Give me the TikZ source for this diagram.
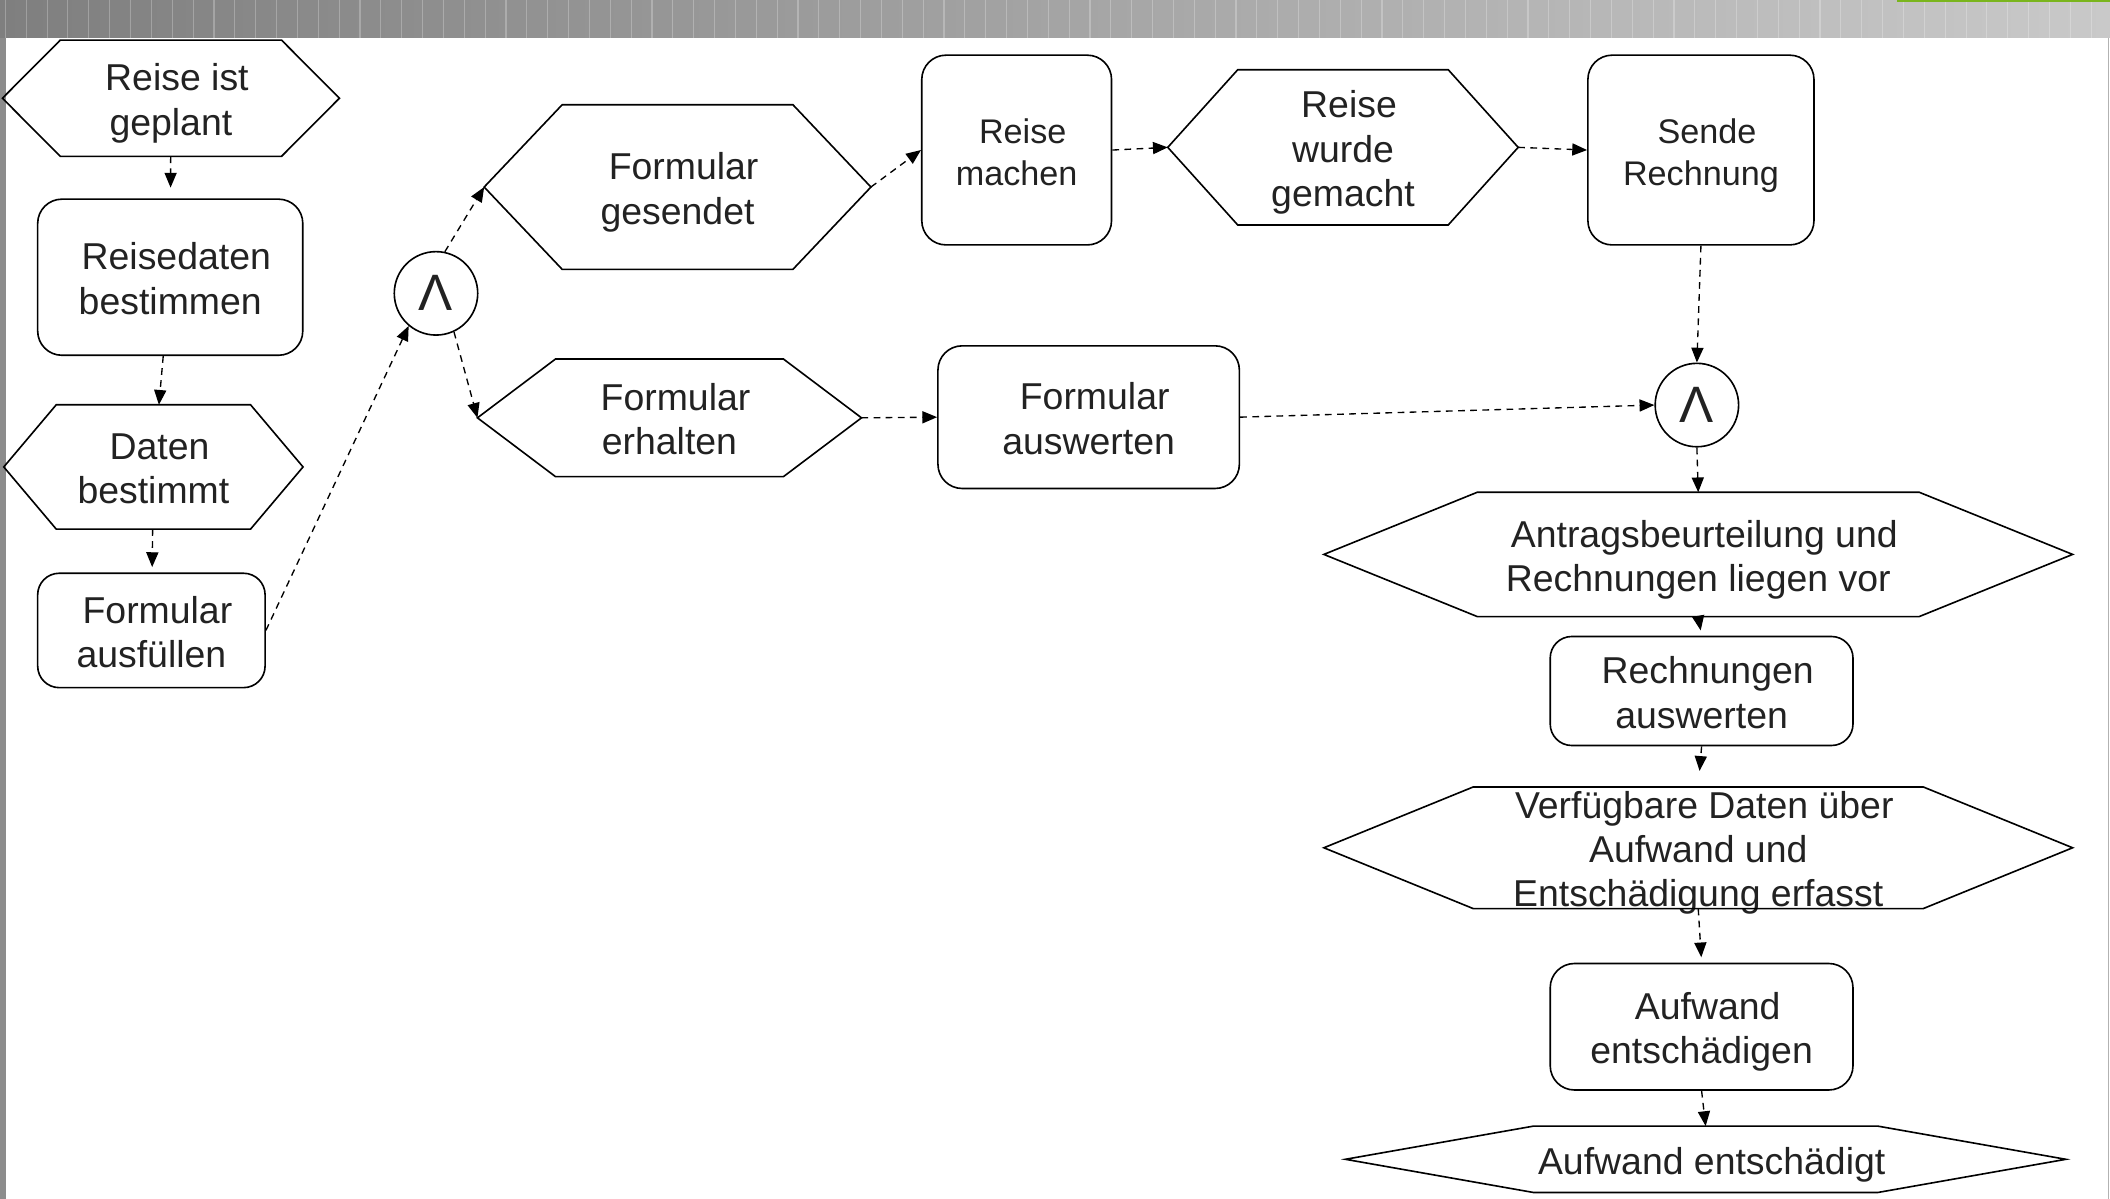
\documentclass[tikz,border=0pt]{standalone}
\usepackage{fontspec}
\setmainfont{Liberation Sans}
\usepackage{tikz}
\usetikzlibrary{arrows.meta,positioning}
\definecolor{textgray}{HTML}{222222}
\definecolor{barleft}{HTML}{7F7F7F}
\definecolor{barright}{HTML}{C9C9C9}
\definecolor{bargreen}{HTML}{7AB51D}
\definecolor{framegray}{HTML}{8C8C8C}
\newcommand{\einzug}{\hspace*{9pt}}

\begin{document}
\begin{tikzpicture}[x=1pt,y=-1pt,>={Triangle[length=11pt,width=9pt]},font=\fontsize{27.8}{33}\selectfont]
\tikzstyle{ereignis}=[shape=rectangle,inner sep=0pt,align=center,text=textgray,text depth=5pt]
\tikzstyle{funktion}=[draw,line width=1.2pt,rounded corners=18pt,inner sep=0pt,align=center,text=textgray,text depth=5pt]
\tikzstyle{zeile1}=[text height=27pt]
\tikzstyle{zeile2}=[text height=60pt]
\tikzstyle{zeile3}=[text height=93pt]
\tikzstyle{klein}=[font=\fontsize{25.4}{31}\selectfont,text height=56pt,text depth=3pt]
\tikzstyle{konnektor}=[draw,circle,line width=1.2pt,minimum size=62pt,inner sep=0pt,text=textgray,font=\fontsize{38}{38}\selectfont]
\tikzstyle{fluss}=[->,dashed,dash pattern=on 5pt off 4pt,line width=1pt]
\useasboundingbox (0,0) rectangle (1568,891);
% window frame
\shade[left color=barleft,right color=barright] (0,0) rectangle (1568,28);
\foreach \i in {0,...,101}
  \draw[white,opacity=0.25,line width=0.8pt] (\i*15.5+4,0) -- (\i*15.5+4,28);
\fill[bargreen] (1410,0) rectangle (1568,1.3);
\fill[framegray] (0,28) rectangle (4.5,891);
\draw[gray!60,line width=0.8pt] (1567,28) -- (1567,891);
% events and functions
\node[ereignis,zeile2,minimum width=250pt,minimum height=86pt] (geplant) at (127,73) {\einzug Reise ist\\geplant};
\node[funktion,zeile2,minimum width=197pt,minimum height=116pt] (reisedaten) at (126.5,206) {\einzug Reisedaten\\bestimmen};
\node[ereignis,zeile2,minimum width=222pt,minimum height=92pt] (bestimmt) at (114,347) {\einzug Daten\\bestimmt};
\node[funktion,zeile2,minimum width=169pt,minimum height=85pt,rounded corners=16pt] (ausfuellen) at (112.5,468.5) {\einzug Formular\\ausfüllen};
\node[konnektor] (und1) at (324,218) {Λ};
\node[ereignis,zeile2,minimum width=287pt,minimum height=122pt] (gesendet) at (503.5,139) {\einzug Formular\\gesendet};
\node[ereignis,zeile2,minimum width=285pt,minimum height=87pt] (erhalten) at (497.5,310.5) {\einzug Formular\\erhalten};
\node[funktion,klein,minimum width=141pt,minimum height=141pt] (machen) at (755.5,111.5) {\einzug Reise\\machen};
\node[ereignis,zeile3,minimum width=260pt,minimum height=115pt] (gemacht) at (998,109.5) {\einzug Reise\\wurde\\gemacht};
\node[funktion,klein,minimum width=168pt,minimum height=141pt] (rechnung) at (1264,111.5) {\einzug Sende\\Rechnung};
\node[funktion,zeile2,minimum width=224pt,minimum height=106pt] (auswerten) at (809,310) {\einzug Formular\\auswerten};
\node[konnektor] (und2) at (1261,301) {Λ};
\node[ereignis,zeile2,minimum width=556pt,minimum height=92pt] (antrag) at (1262,412) {\einzug Antragsbeurteilung und\\Rechnungen liegen vor};
\node[funktion,zeile2,minimum width=225pt,minimum height=81pt,rounded corners=16pt] (rauswerten) at (1264.5,513.5) {\einzug Rechnungen\\auswerten};
\node[ereignis,minimum width=556pt,minimum height=90pt,text height=88pt,text depth=0pt] (verfuegbar) at (1262,630) {\einzug Verfügbare Daten über\\Aufwand und\\Entschädigung erfasst};
\node[funktion,zeile2,minimum width=225pt,minimum height=94pt] (entschaedigen) at (1264.5,763) {\einzug Aufwand\\entschädigen};
\node[ereignis,zeile1,minimum width=535pt,minimum height=49pt] (entschaedigt) at (1267.5,861.5) {\einzug Aufwand entschädigt};
% hexagon outlines
\foreach \n/\d in {geplant/43,bestimmt/39,gesendet/58,erhalten/58,gemacht/52,antrag/114,verfuegbar/111,entschaedigt/140}
  \draw[line width=1.2pt] (\n.west) -- ([xshift=\d pt]\n.north west) -- ([xshift=-\d pt]\n.north east)
    -- (\n.east) -- ([xshift=-\d pt]\n.south east) -- ([xshift=\d pt]\n.south west) -- cycle;
% control flow
\draw[fluss,shorten >=8pt] (geplant) -- (reisedaten);
\draw[fluss] (reisedaten) -- (bestimmt);
\draw[fluss,shorten >=4pt] (bestimmt) -- (ausfuellen);
\draw[fluss] (ausfuellen.east) -- (und1.230);
\draw[fluss] (und1.78) -- (gesendet.west);
\draw[fluss] (und1.-65) -- (erhalten.west);
\draw[fluss] (gesendet.east) -- (machen.west);
\draw[fluss] (machen.east) -- (gemacht.west);
\draw[fluss] (gemacht.east) -- (rechnung.west);
\draw[fluss] (rechnung.south) -- (und2.north);
\draw[fluss] (erhalten.east) -- (auswerten.west);
\draw[fluss] (auswerten.east) -- (und2.west);
\draw[fluss] (und2.south) -- (antrag.north);
\draw[fluss,shorten >=4pt] (antrag.south) -- (rauswerten.north);
\draw[fluss,shorten >=12pt] (rauswerten.south) -- (verfuegbar.north);
\draw[fluss,shorten >=4pt] (verfuegbar.south) -- (entschaedigen.north);
\draw[fluss] (entschaedigen.south) -- (entschaedigt.north);
\end{tikzpicture}
\end{document}
